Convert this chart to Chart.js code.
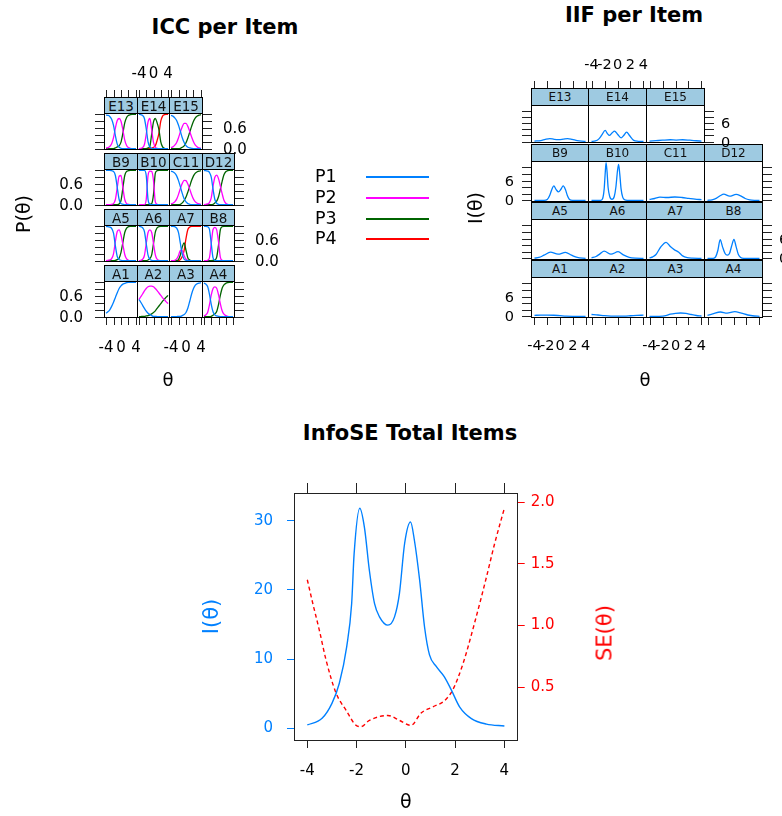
<!DOCTYPE html>
<html>
<head>
<meta charset="utf-8">
<title>ICC / IIF / InfoSE</title>
<script src="https://cdn.jsdelivr.net/npm/chart.js@4.4.1/dist/chart.umd.min.js"></script>
<style>
  html, body { margin: 0; padding: 0; background: #fff; }
  body { position: relative; width: 782px; height: 816px; overflow: hidden; font-family: "DejaVu Sans", sans-serif; color: #000; }
  canvas { position: absolute; }
  .box { position: absolute; box-sizing: border-box; }
  .txt { position: absolute; white-space: nowrap; line-height: 1; z-index: 5; }
  .strip { display: flex; align-items: center; justify-content: center; color: #111; }
</style>
</head>
<body>
<canvas id="infoSE" width="450" height="346" style="left:190px;top:470px"></canvas>
<script>
// ---------- data ----------
const thetaGrid = [-4, -3.5, -3, -2.5, -2, -1.5, -1, -0.5, 0, 0.5, 1, 1.5, 2, 2.5, 3, 3.5, 4];
const catLabels = ['P1', 'P2', 'P3', 'P4'];
const catColors = ['#0080ff', '#ff00ff', '#006400', '#ff0000'];

// panels as laid out in the figure, top row first
const panelRows = [
  ['E13', 'E14', 'E15'],
  ['B9', 'B10', 'C11', 'D12'],
  ['A5', 'A6', 'A7', 'B8'],
  ['A1', 'A2', 'A3', 'A4']
];

// ICC: category probabilities on thetaGrid (one row per category)
const iccA1 = [[.1, .14, .2, .3, .42, .56, .7, .82, .9, .95, .97, .99, 1, 1, 1, 1, 1]];
const iccA2 = [
  [.5, .42, .33, .24, .16, .1, .06, .03, .01, .01, 0, 0, 0, 0, 0, 0, 0],
  [.5, .58, .66, .75, .82, .87, .89, .89, .87, .82, .76, .69, .62, .55, .49, .43, .38],
  [0, 0, .01, .01, .02, .03, .05, .08, .12, .17, .24, .31, .38, .45, .51, .57, .62]
];
const iccA3 = [[0, 0, 0, 0, .01, .01, .03, .06, .12, .25, .45, .66, .82, .92, .96, .98, .99]];
const iccA4 = [
  [.98, .95, .88, .66, .36, .14, .05, .02, .01, 0, 0, 0, 0, 0, 0, 0, 0],
  [.02, .05, .12, .34, .63, .82, .87, .83, .64, .38, .17, .07, .03, .01, 0, 0, 0],
  [0, 0, 0, 0, .01, .04, .08, .15, .35, .62, .83, .93, .97, .99, 1, 1, 1]
];
const iccA5 = [
  [1, .99, .98, .94, .8, .43, .12, .03, .01, 0, 0, 0, 0, 0, 0, 0, 0],
  [0, .01, .02, .06, .2, .56, .85, .9, .75, .47, .18, .05, .01, 0, 0, 0, 0],
  [0, 0, 0, 0, 0, .01, .03, .07, .24, .53, .82, .95, .99, 1, 1, 1, 1]
];
const iccA6 = [
  [1, .99, .96, .85, .5, .16, .04, .01, 0, 0, 0, 0, 0, 0, 0, 0, 0],
  [0, .01, .04, .15, .5, .82, .9, .82, .5, .17, .04, .01, 0, 0, 0, 0, 0],
  [0, 0, 0, 0, 0, .02, .06, .17, .5, .83, .96, .99, 1, 1, 1, 1, 1]
];
const iccA7 = [
  [1, 1, .99, .95, .82, .5, .18, .04, .01, 0, 0, 0, 0, 0, 0, 0, 0],
  [0, 0, .01, .05, .15, .3, .3, .14, .04, .01, 0, 0, 0, 0, 0, 0, 0],
  [0, 0, 0, 0, .03, .17, .4, .52, .3, .08, .02, 0, 0, 0, 0, 0, 0],
  [0, 0, 0, 0, 0, .03, .12, .3, .65, .91, .98, 1, 1, 1, 1, 1, 1]
];
const iccB8 = [
  [1, 1, .99, .92, .5, .08, .01, 0, 0, 0, 0, 0, 0, 0, 0, 0, 0],
  [0, 0, .01, .08, .5, .91, .97, .9, .55, .1, .01, 0, 0, 0, 0, 0, 0],
  [0, 0, 0, 0, 0, .01, .02, .1, .45, .9, .99, 1, 1, 1, 1, 1, 1]
];
const iccB9 = [
  [1, 1, 1, .99, .97, .85, .5, .15, .03, .01, 0, 0, 0, 0, 0, 0, 0],
  [0, 0, 0, .01, .03, .15, .5, .83, .85, .5, .15, .03, .01, 0, 0, 0, 0],
  [0, 0, 0, 0, 0, 0, 0, .02, .12, .49, .85, .97, .99, 1, 1, 1, 1]
];
const iccB10 = [
  [1, 1, 1, 1, .85, .15, .01, 0, 0, 0, 0, 0, 0, 0, 0, 0, 0],
  [0, 0, 0, 0, .15, .85, .98, .97, .7, .08, .01, 0, 0, 0, 0, 0, 0],
  [0, 0, 0, 0, 0, 0, .01, .03, .3, .92, .99, 1, 1, 1, 1, 1, 1]
];
const iccC11 = [
  [.98, .96, .92, .84, .7, .52, .33, .17, .08, .03, .01, 0, 0, 0, 0, 0, 0],
  [.02, .04, .08, .16, .3, .47, .62, .71, .7, .6, .45, .29, .16, .08, .04, .02, .01],
  [0, 0, 0, 0, 0, .01, .05, .12, .22, .37, .54, .71, .84, .92, .96, .98, .99]
];
const iccD12 = [
  [1, .99, .98, .94, .8, .45, .15, .04, .01, 0, 0, 0, 0, 0, 0, 0, 0],
  [0, .01, .02, .06, .2, .54, .8, .86, .76, .55, .32, .13, .04, .01, 0, 0, 0],
  [0, 0, 0, 0, 0, .01, .05, .1, .23, .45, .68, .87, .96, .99, 1, 1, 1]
];
const iccE13 = [
  [.98, .97, .94, .86, .68, .38, .13, .04, .01, 0, 0, 0, 0, 0, 0, 0, 0],
  [.02, .03, .06, .14, .32, .6, .82, .88, .8, .55, .25, .09, .03, .01, 0, 0, 0],
  [0, 0, 0, 0, 0, .02, .05, .08, .19, .45, .75, .91, .97, .99, 1, 1, 1]
];
const iccE14 = [
  [1, .99, .97, .88, .58, .2, .05, .01, 0, 0, 0, 0, 0, 0, 0, 0, 0],
  [0, .01, .03, .12, .42, .78, .88, .55, .18, .04, .01, 0, 0, 0, 0, 0, 0],
  [0, 0, 0, 0, 0, .02, .07, .43, .78, .88, .75, .55, .2, .05, .01, 0, 0],
  [0, 0, 0, 0, 0, 0, 0, .01, .04, .08, .24, .45, .8, .95, .99, 1, 1]
];
const iccE15 = [
  [.97, .95, .9, .82, .68, .5, .32, .18, .09, .04, .02, .01, 0, 0, 0, 0, 0],
  [.03, .05, .1, .18, .32, .49, .64, .74, .74, .65, .5, .34, .2, .1, .05, .02, .01],
  [0, 0, 0, 0, 0, .01, .04, .08, .17, .31, .48, .65, .8, .9, .95, .98, .99]
];

// IIF: [theta, information]
const iifA1 = [[-4, .35], [-3, .4], [-2, .42], [-1, .38], [0, .25], [1, .12], [2, .05], [3, .02], [4, .01]];
const iifA2 = [[-4, .6], [-3, .45], [-2, .25], [-1, .12], [0, .08], [1, .12], [2, .22], [3, .33], [4, .4]];
const iifA3 = [[-4, .02], [-2.5, .05], [-1.5, .25], [-0.8, .7], [0, .95], [0.8, 1.05], [1.6, .95], [2.4, .6], [3.2, .3], [4, .15]];
const iifA4 = [[-4, .35], [-3.2, .8], [-2, 1.35], [-1, 1], [0.2, 1.45], [1.2, 1], [2.2, .45], [3.2, .15], [4, .05]];
const iifA5 = [[-4, .1], [-3.3, .3], [-2.5, 1], [-1.5, 1.9], [-0.3, 1.3], [0.85, 1.85], [1.8, 1], [2.7, .3], [4, .05]];
const iifA6 = [[-4, .2], [-3.3, .6], [-2.7, 1.4], [-2.05, 2.2], [-1, 1.3], [0.1, 2.05], [0.9, 1.1], [1.8, .35], [2.8, .08], [4, .02]];
const iifA7 = [[-4, .2], [-3.5, .5], [-3, 1.2], [-2.3, 3.4], [-1.45, 4.9], [-0.8, 3.6], [-0.15, 2.6], [0.5, 1.9], [1.1, .8], [1.8, .25], [2.6, .08], [4, .02]];
const iifB8 = [[-4, 0], [-3.1, .05], [-2.75, .5], [-2.4, 2.5], [-2.05, 5.7], [-1.7, 3.6], [-1.3, 1.5], [-0.95, 1], [-0.6, 1.6], [-0.3, 3.7], [0.07, 5.75], [0.4, 3.6], [0.75, 1.2], [1.1, .3], [1.6, .05], [4, 0]];
const iifB9 = [[-4, 0], [-2.5, .02], [-2, .3], [-1.6, 1.6], [-1.25, 3.5], [-0.97, 4.4], [-0.6, 3.3], [-0.24, 2.6], [0.15, 3.4], [0.5, 4.4], [0.85, 3.3], [1.15, 1.5], [1.45, .4], [2, .05], [4, 0]];
const iifB10 = [[-4, 0], [-2.6, .02], [-2.3, .5], [-2.05, 3.5], [-1.9, 8], [-1.76, 11.45], [-1.6, 8.5], [-1.45, 4], [-1.2, 1.2], [-0.85, .35], [-0.5, 1.2], [-0.25, 4], [0, 9], [0.17, 10.9], [0.35, 8], [0.55, 3.5], [0.8, 1], [1.1, .2], [1.5, .02], [4, 0]];
const iifC11 = [[-4, .3], [-3.2, .6], [-2.4, 1], [-1.3, .9], [-0.1, 1.05], [1, .9], [2, .65], [3, .4], [4, .25]];
const iifD12 = [[-4, .05], [-3.3, .2], [-2.6, .7], [-2, 1.5], [-1.5, 1.9], [-0.6, 1.3], [0.4, 1.85], [1.1, 1.4], [1.8, .6], [2.5, .2], [3.3, .05], [4, .02]];
const iifE13 = [[-4, .15], [-3, .35], [-2.3, .75], [-1.6, 1], [-0.9, .75], [-0.2, .65], [0.5, .8], [1.2, 1], [1.9, .75], [2.7, .35], [3.4, .15], [4, .08]];
const iifE14 = [[-4, .05], [-3.4, .2], [-2.9, .8], [-2.4, 2.2], [-1.9, 3.65], [-1.55, 2.6], [-1.25, 2], [-0.85, 2.8], [-0.45, 3.4], [0, 2.4], [0.55, 1.2], [0.95, 2], [1.4, 3.1], [1.85, 2], [2.5, .4], [3.2, .1], [4, .03]];
const iifE15 = [[-4, .15], [-3, .3], [-2, .45], [-0.8, .6], [0.1, .5], [1.1, .6], [2.2, .45], [3.2, .28], [4, .15]];

// test information and standard error
const infoTheta = [-4, -3.4, -3, -2.7, -2.4, -2.2, -2.1, -1.87, -1.68, -1.48, -1.27, -1.07, -0.73, -0.46, -0.26, -0.05, 0.19, 0.35, 0.56, 0.76, 0.96, 1.24, 1.57, 1.85, 2.18, 2.66, 3.27, 4];
const infoTotal = [0.47, 1.44, 3.6, 6.5, 11.8, 18, 25.2, 31.8, 29, 22.8, 18, 16.1, 14.9, 16.1, 19.5, 26.7, 29.8, 27.1, 21.4, 14.6, 10.6, 8.9, 7.4, 5.5, 3.1, 1.4, 0.6, 0.33];
const seTheta = [-4, -3.78, -3.51, -3.24, -2.83, -2.42, -2.02, -1.82, -1.48, -0.73, -0.26, 0.21, 0.62, 1.1, 1.57, 1.91, 2.32, 2.79, 3.27, 3.6, 4];
const seTotal = [1.37, 1.18, 0.96, 0.72, 0.45, 0.31, 0.19, 0.18, 0.23, 0.27, 0.23, 0.19, 0.29, 0.34, 0.39, 0.48, 0.69, 1.02, 1.39, 1.66, 1.95];

// axes
const thetaTicks = [-4, -2, 0, 2, 4];
const iccXLabels = [-4, 0, 4];
const iccYTicks = [0, 0.2, 0.4, 0.6, 0.8, 1];
const iccYLabels = ['0.0', '0.6'];
const iccYLabelVals = [0, 0.6];
const iifXLabels = [-4, -2, 0, 2, 4];
const iifYTicks = [0, 2, 4, 6, 8, 10];
const iifYLabels = ['0', '6'];
const iifYLabelVals = [0, 6];
const infoTicks = [0, 10, 20, 30];
const seTicks = [0.5, 1, 1.5, 2];
const seTickLabels = ['0.5', '1.0', '1.5', '2.0'];

const iccByItem = { A1: iccA1, A2: iccA2, A3: iccA3, A4: iccA4, A5: iccA5, A6: iccA6, A7: iccA7, B8: iccB8, B9: iccB9, B10: iccB10, C11: iccC11, D12: iccD12, E13: iccE13, E14: iccE14, E15: iccE15 };
const iifByItem = { A1: iifA1, A2: iifA2, A3: iifA3, A4: iifA4, A5: iifA5, A6: iifA6, A7: iifA7, B8: iifB8, B9: iifB9, B10: iifB10, C11: iifC11, D12: iifD12, E13: iifE13, E14: iifE14, E15: iifE15 };

// ---------- helpers ----------
Chart.defaults.font.family = '"DejaVu Sans", sans-serif';
Chart.defaults.color = '#000';
const stripFill = '#9ecae1';
const infoColor = '#0080ff';
const seColor = '#ff0000';

function addBox(x, y, w, h, css) {
  const d = document.createElement('div');
  d.className = 'box';
  d.style.cssText = 'left:' + x + 'px;top:' + y + 'px;width:' + w + 'px;height:' + h + 'px;' + (css || '');
  document.body.appendChild(d);
  return d;
}

function addText(str, x, y, size, opts) {
  opts = opts || {};
  const d = document.createElement('div');
  d.className = 'txt';
  d.textContent = str;
  const ax = opts.align === 'left' ? '0' : opts.align === 'right' ? '-100%' : '-50%';
  d.style.left = x + 'px';
  d.style.top = y + 'px';
  d.style.fontSize = size + 'px';
  if (opts.bold) d.style.fontWeight = 'bold';
  if (opts.color) d.style.color = opts.color;
  d.style.transform = 'translate(' + ax + ',-50%)' + (opts.rotate ? ' rotate(' + opts.rotate + 'deg)' : '');
  document.body.appendChild(d);
  return d;
}

function panelOptions(xr, yr) {
  return {
    responsive: false,
    animation: false,
    events: [],
    layout: { padding: 0 },
    plugins: { legend: { display: false }, tooltip: { enabled: false } },
    elements: { point: { radius: 0 }, line: { borderWidth: 1.3, cubicInterpolationMode: 'monotone' } },
    scales: {
      x: { type: 'linear', display: false, min: xr[0], max: xr[1] },
      y: { type: 'linear', display: false, min: yr[0], max: yr[1] }
    }
  };
}

function drawLattice(cfg) {
  const nRows = cfg.rows.length;
  cfg.rows.forEach(function (row, r) {
    const bottom = cfg.rowBottoms[r];
    const ph = cfg.panelH[r];
    const top = bottom - ph;
    const stripTop = top - cfg.stripH;
    const fromBottom = nRows - 1 - r;
    row.forEach(function (item, c) {
      const x = cfg.cols[c];
      const w = cfg.cols[c + 1] - x;
      const cv = document.createElement('canvas');
      cv.width = w + 1;
      cv.height = ph + 1;
      cv.style.left = x + 'px';
      cv.style.top = top + 'px';
      document.body.appendChild(cv);
      const chart = new Chart(cv, {
        type: 'line',
        data: { datasets: cfg.datasets(item) },
        options: panelOptions(cfg.xRange, cfg.yRange)
      });
      addBox(x, top, w + 1, ph + 1, 'border:1px solid #000;z-index:2');
      const strip = addBox(x, stripTop, w + 1, cfg.stripH + 1,
        'border:1px solid #000;background:' + stripFill + ';z-index:3;font-size:' + cfg.stripSize + 'px');
      strip.classList.add('strip');
      strip.textContent = item;

      const px = v => x + chart.scales.x.getPixelForValue(v);
      const py = v => top + chart.scales.y.getPixelForValue(v);

      if (r === 0) {
        cfg.xTicks.forEach(v => addBox(Math.round(px(v)), stripTop - cfg.xTickLen, 1, cfg.xTickLen, 'background:#222'));
        if (c % 2 === 1) cfg.xLabels.forEach(v => addText(String(v), px(v), cfg.topLabelY, cfg.labelSize));
      }
      if (r === nRows - 1) {
        cfg.xTicks.forEach(v => addBox(Math.round(px(v)), bottom + 1, 1, cfg.xTickLen, 'background:#222'));
        if (c % 2 === 0) cfg.xLabels.forEach(v => addText(String(v), px(v), cfg.bottomLabelY, cfg.labelSize));
      }
      if (c === 0) {
        cfg.yTicks.forEach(v => addBox(x - cfg.yTickLen, Math.round(py(v)), cfg.yTickLen, 1, 'background:#222'));
        if (fromBottom % 2 === 0) cfg.yLabelVals.forEach((v, i) =>
          addText(cfg.yLabels[i], x - cfg.yLabelGap, py(v), cfg.labelSize, { align: 'right' }));
      }
      if (c === row.length - 1) {
        cfg.yTicks.forEach(v => addBox(x + w + 1, Math.round(py(v)), cfg.yTickLen, 1, 'background:#222'));
        if (fromBottom % 2 === 1) cfg.yLabelVals.forEach((v, i) =>
          addText(cfg.yLabels[i], x + w + cfg.yLabelGap, py(v), cfg.labelSize, { align: 'left' }));
      }
    });
  });
}

// ---------- ICC per Item ----------
addText('ICC per Item', 225, 27, 21, { bold: true });
drawLattice({
  rows: panelRows,
  cols: [104, 137, 169, 202, 234],
  rowBottoms: [149, 205, 261, 317],
  panelH: [36, 36, 36, 36],
  stripH: 16,
  stripSize: 13.5,
  xRange: [-4.54, 4.54],
  yRange: [-0.04, 1.04],
  xTicks: thetaTicks,
  xLabels: iccXLabels,
  yTicks: iccYTicks,
  yLabels: iccYLabels,
  yLabelVals: iccYLabelVals,
  xTickLen: 7,
  yTickLen: 9,
  yLabelGap: 21,
  topLabelY: 73,
  bottomLabelY: 347,
  labelSize: 15,
  datasets: item => iccByItem[item].map((vals, k) => ({
    label: catLabels[k],
    data: thetaGrid.map((t, i) => ({ x: t, y: vals[i] })),
    borderColor: catColors[k]
  }))
});
addText('P(\u03b8)', 23, 214, 19, { rotate: -90 });
addText('\u03b8', 168, 380, 18);

// legend
catLabels.forEach((lab, k) => {
  const y = 177 + k * 20.8;
  addText(lab, 315, y, 17.5, { align: 'left' });
  addBox(366, y - 1, 63, 2, 'background:' + catColors[k]);
});

// ---------- IIF per Item ----------
addText('IIF per Item', 634, 15, 21, { bold: true });
drawLattice({
  rows: panelRows,
  cols: [531, 588, 646, 704, 762],
  rowBottoms: [142, 201, 259, 317],
  panelH: [37, 40, 40, 40],
  stripH: 17,
  stripSize: 12,
  xRange: [-4.54, 4.54],
  yRange: [-0.46, 11.96],
  xTicks: thetaTicks,
  xLabels: iifXLabels,
  yTicks: iifYTicks,
  yLabels: iifYLabels,
  yLabelVals: iifYLabelVals,
  xTickLen: 7,
  yTickLen: 9,
  yLabelGap: 17,
  topLabelY: 64,
  bottomLabelY: 345,
  labelSize: 14.5,
  datasets: item => [{
    label: item,
    data: iifByItem[item].map(p => ({ x: p[0], y: p[1] })),
    borderColor: infoColor
  }]
});
addText('I(\u03b8)', 475, 208, 19, { rotate: -90 });
addText('\u03b8', 645, 380, 18);

// ---------- InfoSE Total Items ----------
addText('InfoSE Total Items', 410, 433, 21, { bold: true });
addText('SE(\u03b8)', 605, 633, 21, { rotate: -90, color: seColor });

const setTicks = list => scale => { scale.ticks = list.map(v => ({ value: v })); };

new Chart(document.getElementById('infoSE'), {
  type: 'line',
  data: {
    datasets: [
      {
        label: 'I(\u03b8)',
        data: infoTheta.map((t, i) => ({ x: t, y: infoTotal[i] })),
        borderColor: infoColor,
        borderWidth: 1.4,
        xAxisID: 'x',
        yAxisID: 'yInfo'
      },
      {
        label: 'SE(\u03b8)',
        data: seTheta.map((t, i) => ({ x: t, y: seTotal[i] })),
        borderColor: seColor,
        borderWidth: 1.4,
        borderDash: [4, 3],
        xAxisID: 'x',
        yAxisID: 'ySE'
      }
    ]
  },
  options: {
    responsive: false,
    animation: false,
    events: [],
    layout: { padding: 0, autoPadding: false },
    plugins: { legend: { display: false }, tooltip: { enabled: false } },
    elements: { point: { radius: 0 }, line: { cubicInterpolationMode: 'monotone' } },
    scales: {
      x: {
        type: 'linear', position: 'bottom', min: -4.54, max: 4.54,
        afterBuildTicks: setTicks(thetaTicks),
        afterFit: s => { s.height = 76; },
        grid: { drawOnChartArea: false, color: '#222', tickLength: 8 },
        border: { color: '#222' },
        ticks: { font: { size: 15 }, padding: 14, autoSkip: false, maxRotation: 0 },
        title: { display: true, text: '\u03b8', font: { size: 19 }, padding: { top: 0, bottom: 1.6 } }
      },
      xTop: {
        type: 'linear', axis: 'x', position: 'top', min: -4.54, max: 4.54,
        afterBuildTicks: setTicks(thetaTicks),
        afterFit: s => { s.height = 22.7; },
        grid: { drawOnChartArea: false, color: '#222', tickLength: 10 },
        border: { color: '#222' },
        ticks: { display: false }
      },
      yInfo: {
        type: 'linear', position: 'left', min: -1.7, max: 34,
        afterBuildTicks: setTicks(infoTicks),
        afterFit: s => { s.width = 104; },
        grid: { drawOnChartArea: false, color: infoColor, tickLength: 7 },
        border: { color: '#222' },
        ticks: { color: infoColor, font: { size: 15 }, padding: 14, autoSkip: false },
        title: { display: true, text: 'I(\u03b8)', color: infoColor, font: { size: 21 }, padding: { top: 10.4, bottom: 0 } }
      },
      ySE: {
        type: 'linear', position: 'right', min: 0.071, max: 2.073,
        afterBuildTicks: setTicks(seTicks),
        afterFit: s => { s.width = 122.3; },
        grid: { drawOnChartArea: false, color: seColor, tickLength: 7 },
        border: { color: '#222' },
        ticks: { color: seColor, font: { size: 15 }, padding: 6, autoSkip: false, callback: (v, i) => seTickLabels[i] }
      }
    }
  }
});
</script>
</body>
</html>
